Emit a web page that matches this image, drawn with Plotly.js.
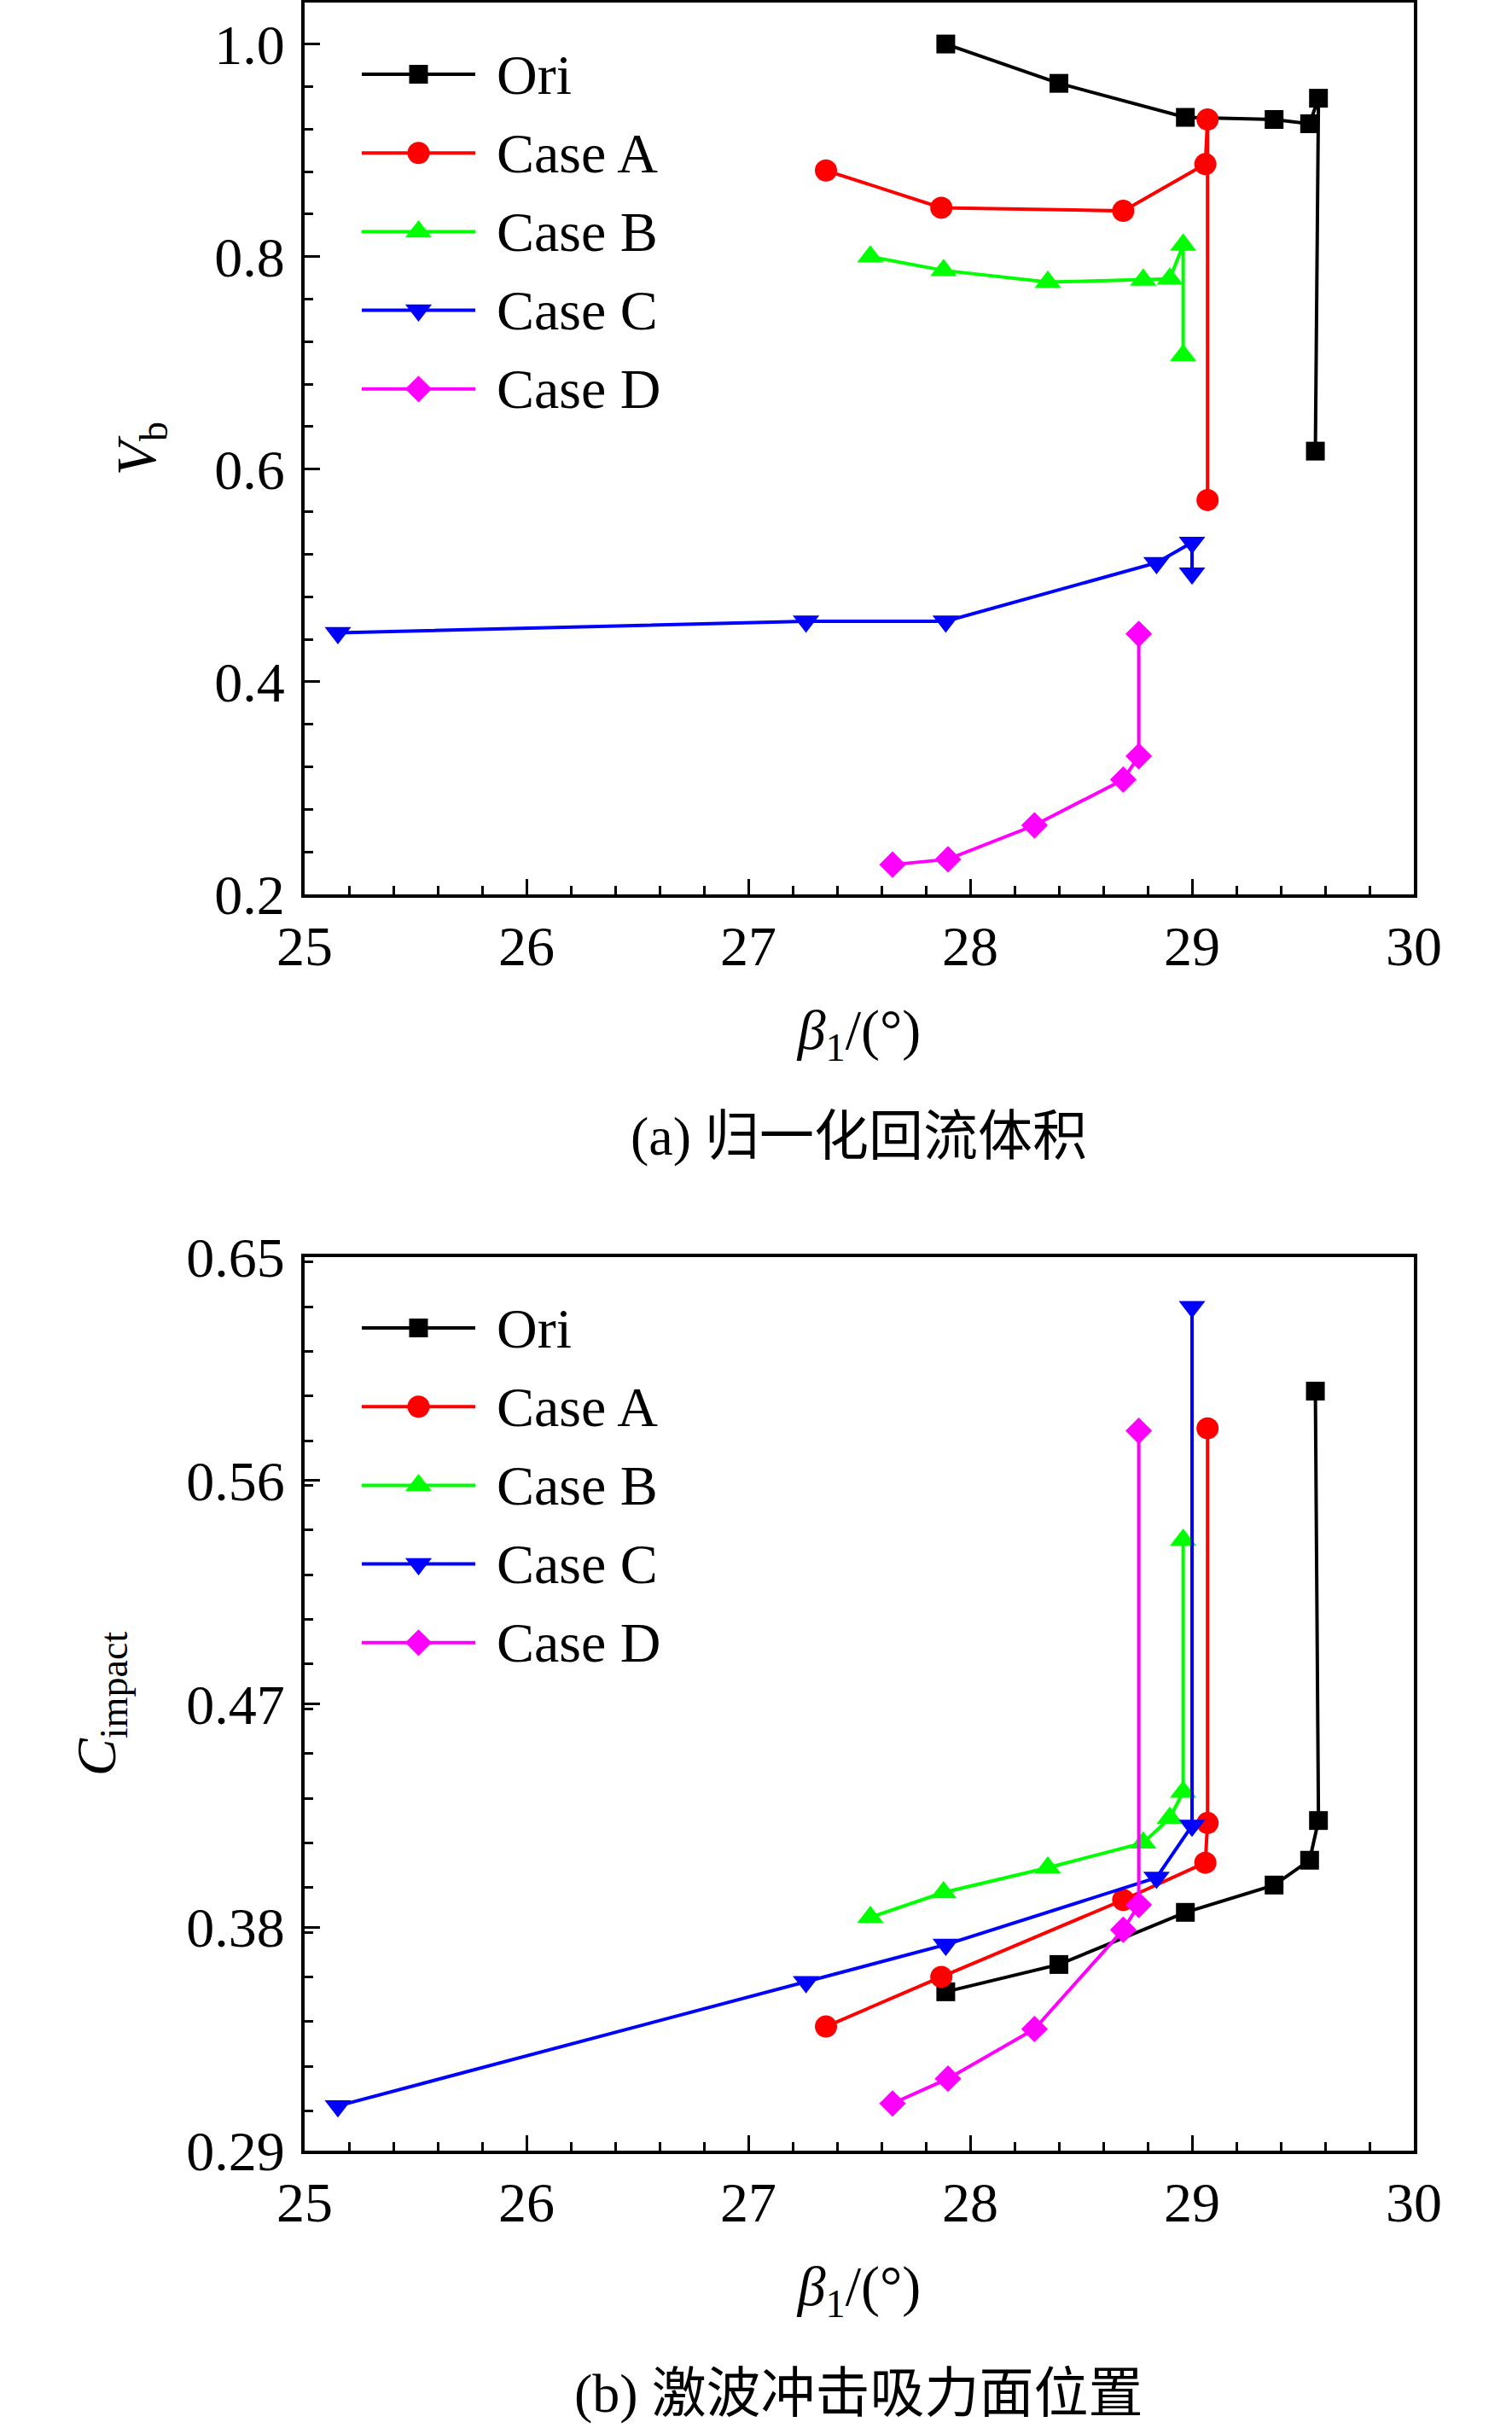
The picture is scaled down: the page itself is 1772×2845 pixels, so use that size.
<!DOCTYPE html>
<html>
<head>
<meta charset="utf-8">
<script src="https://cdn.plot.ly/plotly-3.0.1.min.js"></script>
<style>
  html, body { margin: 0; padding: 0; background: #ffffff; }
  #chart { width: 1772px; height: 2845px; }
</style>
</head>
<body>
<div id="chart"></div>
<script>
// β1 (deg) for each case, shared by both panels
var beta_ori = [27.89, 28.40, 28.97, 29.37, 29.53, 29.57, 29.556];
var beta_a   = [27.35, 27.87, 28.69, 29.06, 29.07, 29.07];
var beta_b   = [27.55, 27.88, 28.35, 28.78, 28.90, 28.96, 28.96];
var beta_c   = [25.15, 27.26, 27.89, 28.84, 29.00, 29.00];
var beta_d   = [27.65, 27.90, 28.29, 28.69, 28.76, 28.76];

// (a) normalised backflow volume Vb
var vb_ori = [1.000, 0.963, 0.931, 0.929, 0.925, 0.949, 0.617];
var vb_a   = [0.881, 0.846, 0.843, 0.887, 0.929, 0.571];
var vb_b   = [0.800, 0.787, 0.776, 0.778, 0.779, 0.811, 0.707];
var vb_c   = [0.446, 0.457, 0.457, 0.512, 0.531, 0.502];
var vb_d   = [0.228, 0.233, 0.265, 0.308, 0.330, 0.445];

// (b) shock impact position on suction side C_impact
var ci_ori = [0.354, 0.365, 0.386, 0.397, 0.407, 0.423, 0.596];
var ci_a   = [0.340, 0.360, 0.391, 0.406, 0.422, 0.581];
var ci_b   = [0.384, 0.394, 0.404, 0.414, 0.424, 0.4345, 0.536];
var ci_c   = [0.308, 0.358, 0.373, 0.400, 0.421, 0.630];
var ci_d   = [0.309, 0.319, 0.339, 0.379, 0.389, 0.580];

var names   = ["Ori", "Case A", "Case B", "Case C", "Case D"];
var colors  = ["#000000", "#ff0000", "#00ff00", "#0000ff", "#ff00ff"];
var symbols = ["square", "circle", "triangle-up", "triangle-down", "diamond"];
var sizes   = [22, 26, 27, 27, 24];

var betas = [beta_ori, beta_a, beta_b, beta_c, beta_d];
var vbs   = [vb_ori, vb_a, vb_b, vb_c, vb_d];
var cis   = [ci_ori, ci_a, ci_b, ci_c, ci_d];

var FONT = "Liberation Serif, Times New Roman, Noto Sans CJK SC, serif";
var W = 1772, H = 2845;
function py(v) { return 1 - v / H; }
function clone(o) { return JSON.parse(JSON.stringify(o)); }

var traces = [];
function addSeries(ys, xa, ya) {
    for (var i = 0; i < 5; i++) {
        traces.push({
            x: betas[i], y: ys[i], name: names[i],
            type: "scatter", mode: "lines+markers",
            line: { color: colors[i], width: 4 },
            marker: { color: colors[i], symbol: symbols[i], size: sizes[i] },
            xaxis: xa, yaxis: ya, showlegend: false
        });
    }
}
addSeries(vbs, "x", "y");
addSeries(cis, "x2", "y2");

// legend samples (line with a marker in the middle), drawn on hidden axes
var legendPos = [0, 1, 2, 3, 4];
function addLegend(xa, ya) {
    for (var i = 0; i < 5; i++) {
        traces.push({
            x: [0, 1], y: [legendPos[i], legendPos[i]],
            type: "scatter", mode: "lines",
            line: { color: colors[i], width: 4 },
            xaxis: xa, yaxis: ya, showlegend: false
        });
        traces.push({
            x: [0.5], y: [legendPos[i]],
            type: "scatter", mode: "markers",
            marker: { color: colors[i], symbol: symbols[i], size: sizes[i] },
            xaxis: xa, yaxis: ya, showlegend: false
        });
    }
}
addLegend("x3", "y3");
addLegend("x4", "y4");

var xBase = {
    range: [25, 30], dtick: 1, tick0: 25,
    ticks: "inside", ticklen: 18, tickwidth: 3, tickcolor: "#000",
    minor: { dtick: 0.2, ticks: "inside", ticklen: 10, tickwidth: 3, tickcolor: "#000" },
    showline: true, linewidth: 4, linecolor: "#000", mirror: true,
    showgrid: false, zeroline: false,
    tickfont: { family: FONT, size: 66, color: "#000" },
    title: { text: "<i>β</i><sub>1</sub>/(°)", font: { family: FONT, size: 66, color: "#000" }, standoff: 40 }
};

var xaxis1 = clone(xBase);
xaxis1.domain = [357 / W, 1657 / W];
xaxis1.anchor = "y";
var xaxis2 = clone(xBase);
xaxis2.domain = [357 / W, 1657 / W];
xaxis2.anchor = "y2";

var yaxis1 = {
    domain: [py(1048), py(3)], anchor: "x",
    range: [0.2, 1.039], dtick: 0.2, tick0: 0.2, tickformat: ".1f",
    ticks: "inside", ticklen: 18, tickwidth: 3, tickcolor: "#000",
    minor: { dtick: 0.04, ticks: "inside", ticklen: 10, tickwidth: 3, tickcolor: "#000" },
    showline: true, linewidth: 4, linecolor: "#000", mirror: true,
    showgrid: false, zeroline: false, ticklabelstandoff: 6,
    tickfont: { family: FONT, size: 66, color: "#000" },
    title: { text: "<i>V</i><sub>b</sub>", font: { family: FONT, size: 66, color: "#000" }, standoff: 48 }
};
var yaxis2 = {
    domain: [py(2520), py(1473)], anchor: "x2",
    range: [0.29, 0.65], dtick: 0.09, tick0: 0.29, tickformat: ".2f",
    ticks: "inside", ticklen: 18, tickwidth: 3, tickcolor: "#000",
    minor: { dtick: 0.018, ticks: "inside", ticklen: 10, tickwidth: 3, tickcolor: "#000" },
    showline: true, linewidth: 4, linecolor: "#000", mirror: true,
    showgrid: false, zeroline: false, ticklabelstandoff: 6,
    tickfont: { family: FONT, size: 66, color: "#000" },
    title: { text: "<i>C</i><sub>impact</sub>", font: { family: FONT, size: 66, color: "#000" }, standoff: 62 }
};

// hidden axes holding the legend samples
var legX = { domain: [424 / W, 557 / W], range: [0, 1], visible: false, fixedrange: true };
var legY = { range: [4.3, -0.3], visible: false, fixedrange: true };
var xaxis3 = clone(legX); xaxis3.anchor = "y3";
var xaxis4 = clone(legX); xaxis4.anchor = "y4";
var yaxis3 = clone(legY); yaxis3.anchor = "x3";
yaxis3.domain = [py(87 + 92.2 * 4.3), py(87 - 92.2 * 0.3)];
var yaxis4 = clone(legY); yaxis4.anchor = "x4";
yaxis4.domain = [py(1556 + 92.2 * 4.3), py(1556 - 92.2 * 0.3)];

var annotations = [
    {
        xref: "paper", yref: "paper", x: 1006 / W, y: py(1331),
        xanchor: "center", yanchor: "middle", showarrow: false,
        text: "(a) 归一化回流体积",
        font: { family: FONT, size: 64, color: "#000" }
    },
    {
        xref: "paper", yref: "paper", x: 1006 / W, y: py(2804),
        xanchor: "center", yanchor: "middle", showarrow: false,
        text: "(b) 激波冲击吸力面位置",
        font: { family: FONT, size: 64, color: "#000" }
    }
];
["y3", "y4"].forEach(function (ya) {
    for (var i = 0; i < 5; i++) {
        annotations.push({
            xref: "paper", yref: ya, x: 580 / W, y: legendPos[i],
            xanchor: "left", yanchor: "middle", showarrow: false,
            text: names[i],
            font: { family: FONT, size: 66, color: "#000" }
        });
    }
});

var layout = {
    width: W, height: H,
    margin: { t: 0, r: 0, l: 0, b: 0 },
    paper_bgcolor: "#ffffff", plot_bgcolor: "rgba(0,0,0,0)",
    font: { family: FONT, color: "#000" },
    showlegend: false,
    xaxis: xaxis1, yaxis: yaxis1, xaxis2: xaxis2, yaxis2: yaxis2,
    xaxis3: xaxis3, yaxis3: yaxis3, xaxis4: xaxis4, yaxis4: yaxis4,
    annotations: annotations
};

Plotly.newPlot("chart", traces, layout, { displayModeBar: false, staticPlot: true });
</script>
</body>
</html>
